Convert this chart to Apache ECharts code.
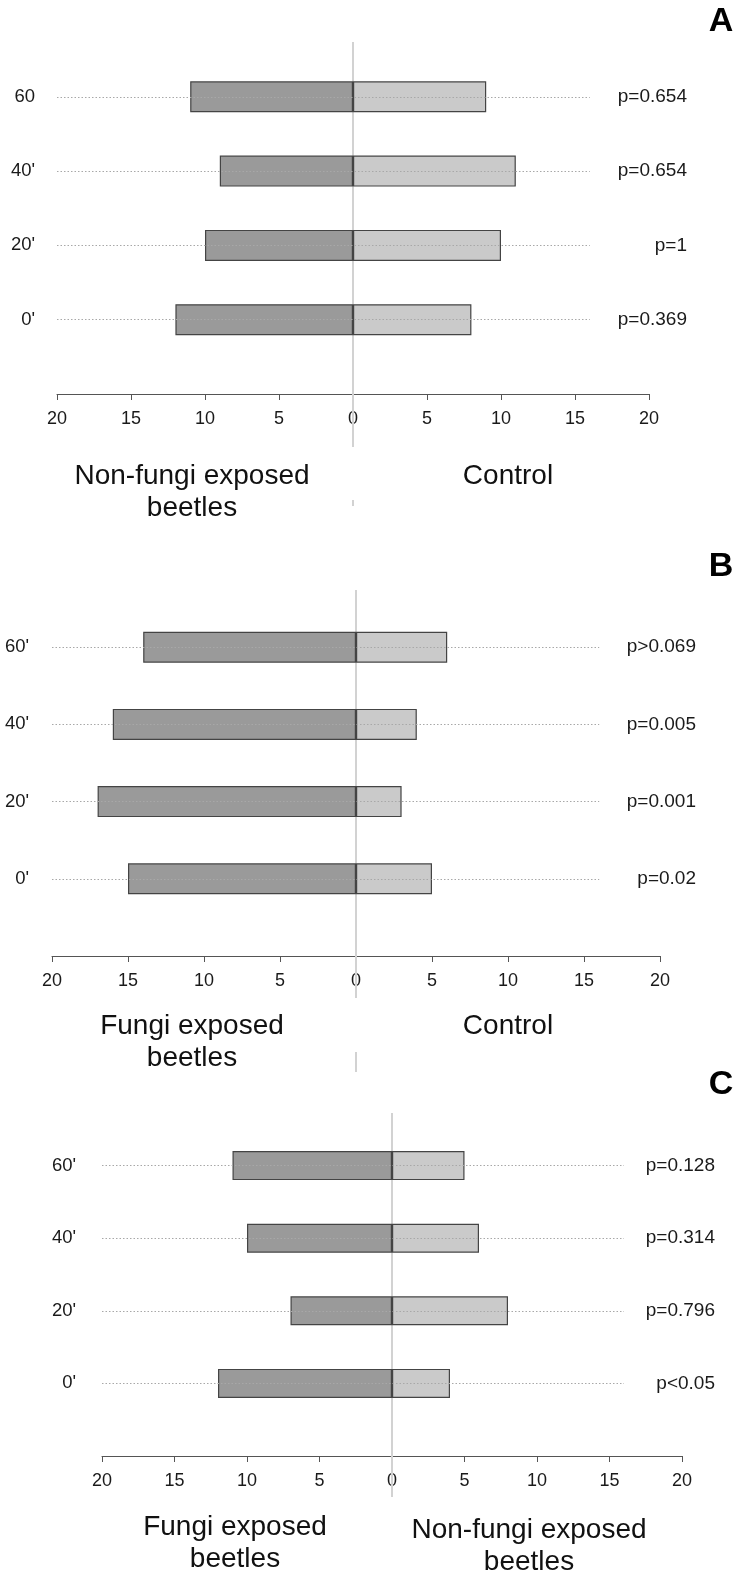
<!DOCTYPE html>
<html><head><meta charset="utf-8">
<script src="https://cdn.jsdelivr.net/npm/echarts@6/dist/echarts.min.js"></script>
<style>html,body{margin:0;padding:0;background:#fff}#c{width:734px;height:1573px}</style>
</head><body><div id="c"></div>
<script>
// ---- data (top row first, as in the picture) ----
const catsA = ["60", "40'", "20'", "0'"];
const leftA = [11, 9, 10, 12];      // Non-fungi exposed beetles
const rightA = [9, 11, 10, 8];      // Control
const pA = ["p=0.654", "p=0.654", "p=1", "p=0.369"];

const catsB = ["60'", "40'", "20'", "0'"];
const leftB = [14, 16, 17, 15];     // Fungi exposed beetles
const rightB = [6, 4, 3, 5];        // Control
const pB = ["p>0.069", "p=0.005", "p=0.001", "p=0.02"];

const catsC = ["60'", "40'", "20'", "0'"];
const leftC = [11, 10, 7, 12];      // Fungi exposed beetles
const rightC = [5, 6, 8, 4];        // Non-fungi exposed beetles
const pC = ["p=0.128", "p=0.314", "p=0.796", "p<0.05"];

const axisMin = -20, axisMax = 20, axisStep = 5;
const dotFrom = -20, dotTo = 16;

const FONT = "'Liberation Sans', Arial, Helvetica, sans-serif";

const panels = [
  {cats: catsA, left: leftA, right: rightA, p: pA, letter: 'A', letterY: 22,
   grid: {left: 57, right: 85, top: 22.5, height: 371.5}, catMargin: 22, pMargin: 38, barW: 31,
   zero: [[42, 447], [500, 506]],
   texts: [{t: 'Non-fungi exposed\nbeetles', x: 192, y: 492}, {t: 'Control', x: 508, y: 476}]},
  {cats: catsB, left: leftB, right: rightB, p: pB, letter: 'B', letterY: 567,
   grid: {left: 52, right: 74, top: 570, height: 386}, catMargin: 23, pMargin: 36, barW: 31,
   zero: [[590, 998], [1052, 1072]],
   texts: [{t: 'Fungi exposed\nbeetles', x: 192, y: 1042}, {t: 'Control', x: 508, y: 1026}]},
  {cats: catsC, left: leftC, right: rightC, p: pC, letter: 'C', letterY: 1085,
   grid: {left: 102, right: 52, top: 1093, height: 363}, catMargin: 26, pMargin: 33, barW: 29,
   zero: [[1113, 1497]],
   texts: [{t: 'Fungi exposed\nbeetles', x: 235, y: 1543}, {t: 'Non-fungi exposed\nbeetles', x: 529, y: 1546}]}
];

const pad = arr => [''].concat(arr.slice().reverse(), ['']);
const padVals = (arr, sign) => ['-'].concat(arr.slice().reverse().map(v => sign * v), ['-']);

const option = {
  animation: false,
  backgroundColor: '#fff',
  textStyle: {fontFamily: FONT},
  grid: [], xAxis: [], yAxis: [], series: []
};

panels.forEach((P, i) => {
  option.grid.push(Object.assign({containLabel: false}, P.grid));
  option.xAxis.push({
    type: 'value', gridIndex: i, min: axisMin, max: axisMax, interval: axisStep,
    axisLine: {show: true, onZero: false, lineStyle: {color: '#555', width: 1}},
    axisTick: {show: true, length: 6, lineStyle: {color: '#555'}},
    splitLine: {show: false},
    axisLabel: {fontSize: 18, color: '#1a1a1a', margin: 16, fontFamily: FONT,
      formatter: v => String(Math.abs(v))}
  });
  option.yAxis.push({
    type: 'category', gridIndex: i, boundaryGap: false, data: pad(P.cats),
    axisLine: {show: false}, axisTick: {show: false}, splitLine: {show: false},
    axisLabel: {fontSize: 18.5, color: '#1a1a1a', margin: P.catMargin, fontFamily: FONT, interval: 0,
      padding: [3, 0, 0, 0]}
  });
  option.yAxis.push({
    type: 'category', gridIndex: i, position: 'right', boundaryGap: false, data: pad(P.p),
    axisLine: {show: false}, axisTick: {show: false}, splitLine: {show: false},
    axisLabel: {fontSize: 19, color: '#1a1a1a', margin: P.pMargin, align: 'right', fontFamily: FONT, interval: 0,
      padding: [6, 0, 0, 0]}
  });
  const lineData = [];
  for (let k = 1; k <= P.cats.length; k++) {
    lineData.push([{coord: [dotFrom, k]}, {coord: [dotTo, k]}]);
  }
  option.series.push({
    type: 'line', xAxisIndex: i, yAxisIndex: 2 * i, data: [], z: 1, silent: true,
    markLine: {silent: true, symbol: ['none', 'none'], label: {show: false},
      lineStyle: {color: '#a8a8a8', type: [1.5, 2], width: 1}, data: lineData}
  });
  option.series.push({
    type: 'bar', xAxisIndex: i, yAxisIndex: 2 * i, data: padVals(P.left, -1),
    barWidth: P.barW, barGap: '-100%', z: 3,
    itemStyle: {color: '#9a9a9a', borderColor: '#444', borderWidth: 1.2}
  });
  option.series.push({
    type: 'bar', xAxisIndex: i, yAxisIndex: 2 * i, data: padVals(P.right, 1),
    barWidth: P.barW, barGap: '-100%', z: 3,
    itemStyle: {color: '#cacaca', borderColor: '#444', borderWidth: 1.2}
  });
});

const chart = echarts.init(document.getElementById('c'), null, {renderer: 'canvas'});
chart.setOption(option);

const graphics = [];
panels.forEach((P, i) => {
  const x0 = chart.convertToPixel({xAxisIndex: i}, 0);
  P.zero.forEach(seg => {
    graphics.push({type: 'line', z: 1, silent: true,
      shape: {x1: x0, y1: seg[0], x2: x0, y2: seg[1]},
      style: {stroke: '#d2d2d2', lineWidth: 2}});
  });
  P.texts.forEach(T => {
    graphics.push({type: 'text', x: T.x, y: T.y, z: 5, silent: true,
      style: {text: T.t, font: '28px ' + FONT, fill: '#111', textAlign: 'center', textVerticalAlign: 'middle', lineHeight: 32}});
  });
  graphics.push({type: 'text', x: 721, y: P.letterY, z: 5, silent: true,
    style: {text: P.letter, font: 'bold 34px ' + FONT, fill: '#000', textAlign: 'center', textVerticalAlign: 'middle'}});
});
chart.setOption({graphic: graphics});
</script>
</body></html>
